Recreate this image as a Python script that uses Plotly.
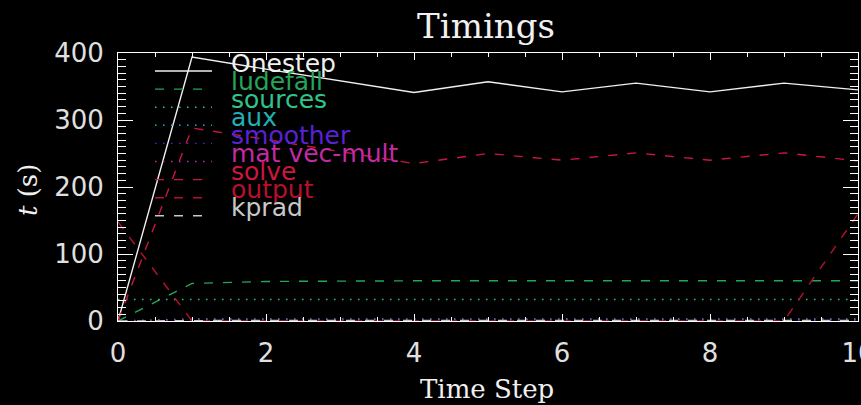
import plotly.graph_objects as go

# ---------------- data ----------------
steps = [0, 1, 2, 3, 4, 5, 6, 7, 8, 9, 10]
onestep = [0, 394, 376, 359, 341, 357, 342, 355, 342, 355, 345]
ludefall = [0, 56, 59, 60, 60, 60, 60, 60, 60, 60, 60]
sources = [32, 32, 32, 32, 32, 32, 32, 32, 32, 32, 32]
aux = [0, 3, 3, 3, 3, 3, 3, 3, 3, 3, 3]
smoother = [0, 1, 1, 1, 1, 1, 1, 1, 1, 1, 1]
matvec = [0, 2, 2, 2, 2, 2, 2, 2, 2, 2, 2]
solve = [0, 288, 271, 253, 235, 250, 240, 251, 240, 251, 239]
output = [148, 0, 0, 0, 0, 0, 0, 0, 0, 0, 160]
kprad = [0, 1, 1, 1, 1, 1, 1, 1, 1, 1, 1]

names = ["Onestep", "ludefall", "sources", "aux", "smoother",
         "mat vec-mult", "solve", "output", "kprad"]
series = [onestep, ludefall, sources, aux, smoother, matvec, solve, output, kprad]
colors = ["#f0f0f0", "#23a65a", "#30c48a", "#22b0b4", "#5a22d6",
          "#c42aa4", "#cc1640", "#b8102c", "#c8c8c8"]
DASHED = "9px,10px"
DOTTED = "1.5px,6.5px"
dashes = ["solid", DASHED, DOTTED, DOTTED, DOTTED, DOTTED, DASHED, DASHED, DASHED]

# ---------------- layout geometry ----------------
W, H = 861, 405
L, R, T, B = 118, 3, 53, 84
PW, PH = W - L - R, H - T - B


def px_x(px):
    return (px - L) / PW


def px_y(py):
    return (H - B - py) / PH


fig = go.Figure()
for name, vals, col, dsh in zip(names, series, colors, dashes):
    fig.add_trace(go.Scatter(
        x=steps, y=vals, mode="lines", name=name,
        line=dict(color=col, width=1.4, dash=dsh),
        showlegend=False,
    ))

# manual IDL-style legend
shapes = []
annotations = []
base0, step = 71, 18.1
for i, (name, col, dsh) in enumerate(zip(names, colors, dashes)):
    yb = base0 + i * step
    shapes.append(dict(
        type="line", xref="paper", yref="paper",
        x0=px_x(155), x1=px_x(212), y0=px_y(yb), y1=px_y(yb),
        line=dict(color=col, width=1.4, dash=dsh), layer="above",
    ))
    annotations.append(dict(
        text=name, xref="paper", yref="paper",
        x=px_x(229), y=px_y(yb - 8), xanchor="left", yanchor="middle",
        showarrow=False,
        font=dict(family="DejaVu Sans", size=25, color=col),
    ))

# axis titles
annotations.append(dict(
    text="Time Step", xref="paper", yref="paper",
    x=px_x(487), y=px_y(389), xanchor="center", yanchor="middle",
    showarrow=False, font=dict(family="DejaVu Serif", size=26, color="#f0f0f0"),
))
annotations.append(dict(
    text="<i>t</i> (s)", xref="paper", yref="paper", textangle=-90,
    x=px_x(28), y=px_y(190), xanchor="center", yanchor="middle",
    showarrow=False, font=dict(family="DejaVu Serif", size=26, color="#f0f0f0"),
))

tickfont = dict(family="DejaVu Sans", size=26, color="#e0e0e0")

fig.update_layout(
    width=W, height=H,
    margin=dict(l=L, r=R, t=T, b=B, autoexpand=False),
    paper_bgcolor="black", plot_bgcolor="black",
    title=dict(text="Timings", x=486 / W, xanchor="center",
               y=1 - 26 / H, yanchor="middle", yref="container",
               font=dict(family="DejaVu Serif", size=34, color="#f0f0f0")),
    shapes=shapes, annotations=annotations,
    xaxis=dict(
        range=[0, 10], tickmode="linear", tick0=0, dtick=2,
        showgrid=False, zeroline=False,
        showline=True, linecolor="white", linewidth=1, mirror="allticks",
        ticks="inside", ticklen=7, tickcolor="white", tickwidth=1,
        minor=dict(dtick=0.5, ticks="inside", ticklen=4, tickcolor="white", showgrid=False),
        tickfont=tickfont, ticklabelstandoff=9, ticklabeloverflow="allow",
    ),
    yaxis=dict(
        range=[0, 400], tickmode="linear", tick0=0, dtick=100,
        showgrid=False, zeroline=False,
        showline=True, linecolor="white", linewidth=1, mirror="allticks",
        ticks="inside", ticklen=15, tickcolor="white", tickwidth=1,
        minor=dict(dtick=10, ticks="inside", ticklen=8, tickcolor="white", showgrid=False),
        tickfont=tickfont, ticklabelstandoff=8, ticklabeloverflow="allow",
    ),
)

fig.write_html(
    "out.html",
    config={"displayModeBar": False},
    post_script="document.body.style.margin='0';document.body.style.background='black';",
)
